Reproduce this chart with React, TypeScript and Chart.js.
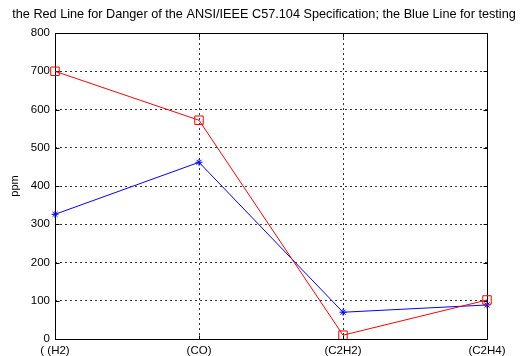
import React, { useEffect, useRef } from "react";
import { Chart, registerables } from "chart.js";

Chart.register(...registerables);

const categories = ["( (H2)", "(CO)", "(C2H2)", "(C2H4)"];
const dangerValues = [700, 572, 10, 102];
const testingValues = [326, 462, 70, 89];
const yTicks = [0, 100, 200, 300, 400, 500, 600, 700, 800];

const FONT = "'Liberation Sans', Arial, sans-serif";

const boxPlugin = {
  id: "boxPlugin",
  beforeDatasetsDraw(chart: any) {
    const { ctx, chartArea } = chart;
    const { left, right, top, bottom } = chartArea;
    ctx.save();
    ctx.strokeStyle = "#000";
    ctx.lineWidth = 1;
    ctx.setLineDash([]);
    const l = Math.round(left) + 0.5;
    const r = Math.round(right) + 0.5;
    const t = Math.round(top) + 0.5;
    const b = Math.round(bottom) + 0.5;
    ctx.strokeRect(l, t, r - l, b - t);
    const ys = chart.scales.y;
    const xs = chart.scales.x;
    ctx.beginPath();
    ys.ticks.forEach((tk: any) => {
      const y = Math.round(ys.getPixelForValue(tk.value)) + 0.5;
      ctx.moveTo(l, y);
      ctx.lineTo(l + 4, y);
      ctx.moveTo(r, y);
      ctx.lineTo(r - 4, y);
    });
    xs.ticks.forEach((_tk: any, i: number) => {
      const x = Math.round(xs.getPixelForTick(i)) + 0.5;
      ctx.moveTo(x, b);
      ctx.lineTo(x, b - 4);
      ctx.moveTo(x, t);
      ctx.lineTo(x, t + 4);
    });
    ctx.stroke();
    ctx.restore();
  },
};

export default function App() {
  const ref = useRef<HTMLCanvasElement | null>(null);
  useEffect(() => {
    if (!ref.current) return;
    const chart = new Chart(ref.current, {
      type: "line",
      data: {
        labels: categories,
        datasets: [
          {
            label: "Danger",
            data: dangerValues,
            borderColor: "#ff0000",
            backgroundColor: "rgba(0,0,0,0)",
            borderWidth: 1,
            pointStyle: "rect",
            pointRadius: 6,
            pointBorderColor: "#ff0000",
            pointBackgroundColor: "rgba(0,0,0,0)",
            pointBorderWidth: 1,
            tension: 0,
          },
          {
            label: "Testing",
            data: testingValues,
            borderColor: "#0000ff",
            backgroundColor: "rgba(0,0,0,0)",
            borderWidth: 1,
            pointStyle: "star",
            pointRadius: 3.5,
            pointBorderColor: "#0000ff",
            pointBackgroundColor: "#0000ff",
            pointBorderWidth: 1,
            tension: 0,
          },
        ],
      },
      options: {
        animation: false,
        responsive: false,
        layout: { padding: 0 },
        plugins: {
          legend: { display: false },
          tooltip: { enabled: false },
          title: {
            display: true,
            text: "the Red Line for Danger of the ANSI/IEEE C57.104 Specification; the Blue Line for testing",
            color: "#000",
            font: { family: FONT, size: 12.7, weight: "normal" },
            padding: { top: 6.4, bottom: 11.4 },
          },
        },
        scales: {
          x: {
            type: "category",
            offset: false,
            grid: {
              display: true,
              drawTicks: false,
              color: "rgba(0,0,0,0.8)",
              lineWidth: 1,
            },
            border: { display: false, dash: [2, 3] },
            ticks: {
              color: "#000",
              font: { family: FONT, size: 11.5 },
              padding: 5,
              maxRotation: 0,
              autoSkip: false,
            },
            afterFit(scale: any) {
              scale.height = 17;
            },
          },
          y: {
            type: "linear",
            min: 0,
            max: 800,
            afterBuildTicks(scale: any) {
              scale.ticks = yTicks.map((v) => ({ value: v }));
            },
            grid: {
              display: true,
              drawTicks: false,
              color: "rgba(0,0,0,0.8)",
              lineWidth: 1,
            },
            border: { display: false, dash: [2, 3] },
            ticks: {
              color: "#000",
              font: { family: FONT, size: 11.5 },
              padding: 5,
            },
            title: {
              display: true,
              text: "ppm",
              color: "#000",
              font: { family: FONT, size: 11 },
              padding: { top: 8, bottom: 0 },
            },
            afterFit(scale: any) {
              scale.width = 55;
            },
          },
          ySpacer: {
            type: "linear",
            position: "right",
            min: 0,
            max: 800,
            grid: { display: false, drawTicks: false },
            border: { display: false },
            ticks: { display: false },
            afterFit(scale: any) {
              scale.width = 41;
            },
          },
        },
      },
      plugins: [boxPlugin],
    } as any);
    return () => chart.destroy();
  }, []);
  return (
    <div style={{ position: "absolute", left: 0, top: 0, width: 528, height: 356, background: "#fff" }}>
      <canvas ref={ref} width={528} height={356} style={{ display: "block" }} />
    </div>
  );
}
